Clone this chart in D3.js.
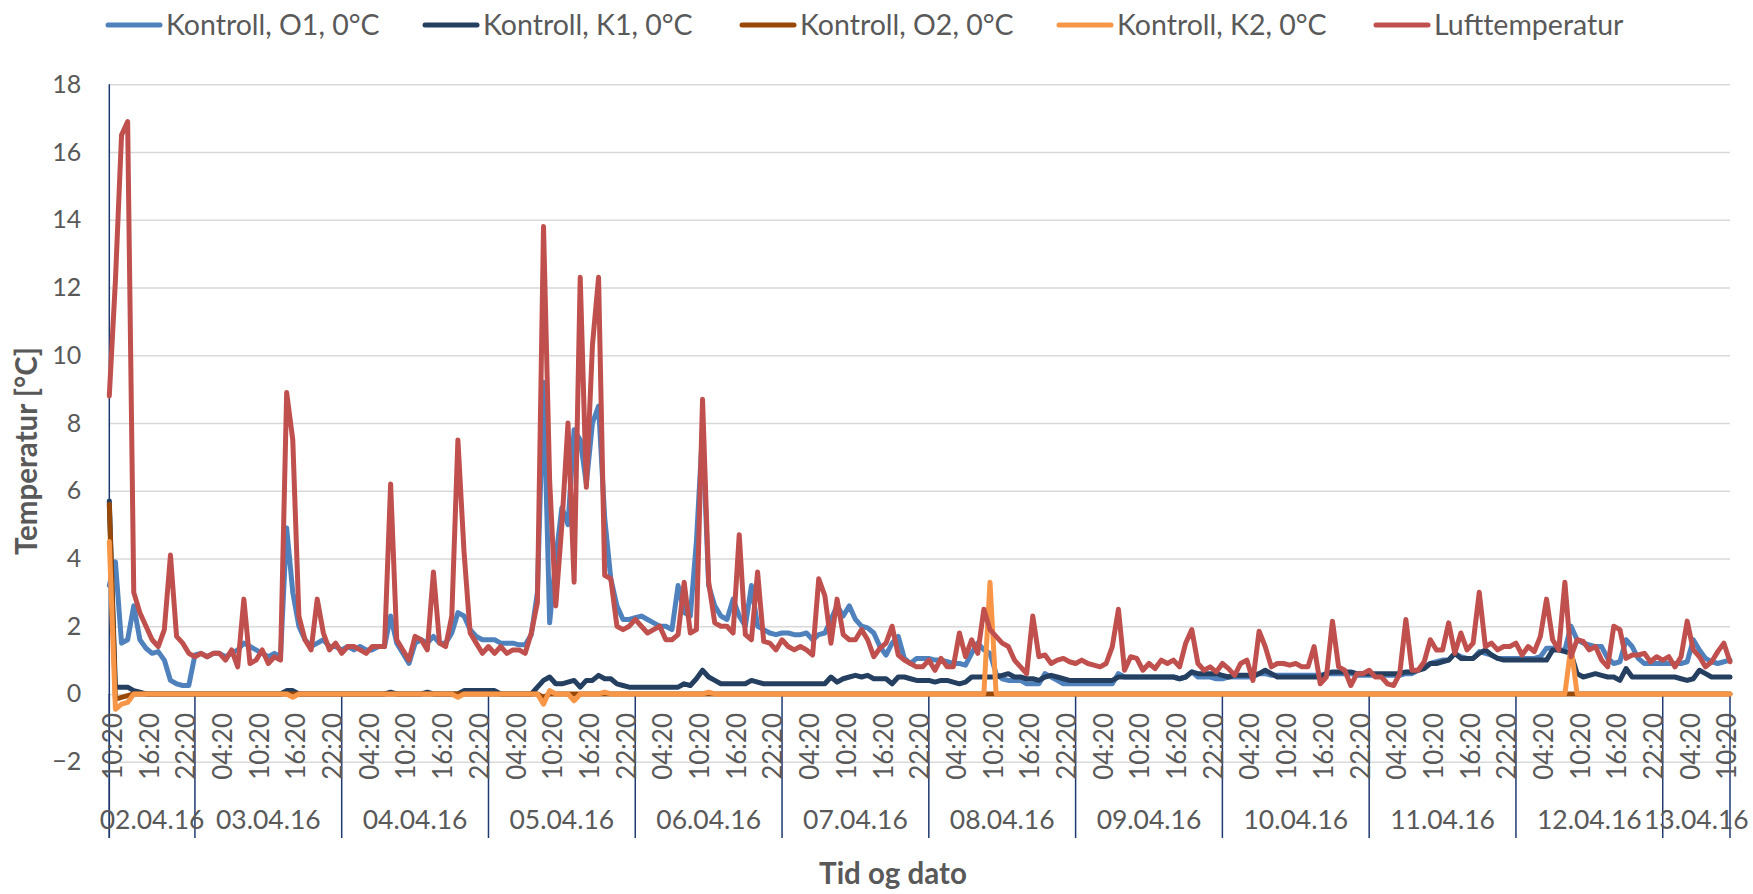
<!DOCTYPE html>
<html lang="no">
<head>
<meta charset="utf-8">
<title>Kontroll 0°C - temperatur</title>
<script src="https://d3js.org/d3.v7.min.js"></script>
<style>
  body { margin: 0; background: #fff; }
  svg text { font-family: Lato, "Open Sans", sans-serif; fill: #595959; }
</style>
</head>
<body>
<div id="chart"></div>
<script>
// first reading, then one reading per hour
var startTime = "2016-04-02 10:20";

var seriesNames = ["Kontroll, O1, 0°C", "Kontroll, K1, 0°C", "Kontroll, O2, 0°C", "Kontroll, K2, 0°C", "Lufttemperatur"];
var seriesColors = ["#4F81BD", "#243F60", "#984807", "#F79646", "#C0504D"];
var dayLabels = ["02.04.16", "03.04.16", "04.04.16", "05.04.16", "06.04.16", "07.04.16",
                 "08.04.16", "09.04.16", "10.04.16", "11.04.16", "12.04.16", "13.04.16"];
var yTicks = [-2, 0, 2, 4, 6, 8, 10, 12, 14, 16, 18];

var o1 = [
  3.2,3.9,1.5,1.6,2.6,1.6,1.35,1.2,1.25,1.0,
  0.4,0.3,0.25,0.25,1.15,1.2,1.1,1.2,1.2,1.1,
  1.2,1.3,1.5,1.4,1.3,1.2,1.1,1.2,1.1,4.9,
  3.0,2.0,1.6,1.4,1.5,1.6,1.4,1.4,1.3,1.4,
  1.3,1.4,1.3,1.3,1.4,1.4,2.3,1.5,1.2,0.9,
  1.5,1.6,1.5,1.7,1.5,1.5,1.8,2.4,2.3,1.9,
  1.7,1.6,1.6,1.6,1.5,1.5,1.5,1.45,1.45,1.75,
  3.0,9.2,2.1,4.0,5.5,5.0,7.8,7.5,6.2,8.0,
  8.5,5.2,3.4,2.6,2.2,2.2,2.25,2.3,2.2,2.1,
  2.0,2.0,1.9,3.2,2.4,2.3,4.5,7.8,3.2,2.6,
  2.3,2.2,2.8,2.3,2.0,3.2,2.0,1.9,1.8,1.75,
  1.8,1.8,1.75,1.75,1.8,1.6,1.75,1.8,2.2,2.6,
  2.3,2.6,2.2,2.0,1.95,1.8,1.4,1.15,1.5,1.7,
  1.05,0.9,1.05,1.05,1.05,1.0,1.0,0.95,0.9,0.9,
  0.85,1.2,1.5,1.3,1.2,0.6,0.45,0.4,0.4,0.4,
  0.3,0.3,0.3,0.6,0.5,0.4,0.3,0.3,0.3,0.3,
  0.3,0.3,0.3,0.3,0.3,0.6,0.5,0.5,0.5,0.5,
  0.5,0.5,0.5,0.5,0.5,0.45,0.5,0.65,0.5,0.5,
  0.5,0.45,0.45,0.5,0.5,0.5,0.5,0.5,0.6,0.6,
  0.55,0.55,0.55,0.55,0.55,0.55,0.55,0.55,0.55,0.6,
  0.6,0.6,0.6,0.6,0.55,0.55,0.55,0.55,0.55,0.55,
  0.55,0.55,0.6,0.6,0.7,0.8,0.9,0.95,1.0,1.0,
  1.2,1.1,1.05,1.05,1.25,1.2,1.15,1.05,1.05,1.05,
  1.05,1.05,1.05,1.05,1.1,1.35,1.35,1.3,1.3,2.0,
  1.6,1.5,1.45,1.4,1.4,1.05,0.9,0.95,1.6,1.4,
  1.05,0.9,0.9,0.9,0.9,0.9,0.9,0.9,0.95,1.6,
  1.3,1.05,0.95,0.9,0.95,1.0
];

var k1 = [
  5.7,0.2,0.2,0.2,0.1,0.05,0,0,0,0,
  0,0,0,0,0,0,0,0,0,0,
  0,0,0,0,0,0,0,0,0,0.1,
  0.1,0,0,0,0,0,0,0,0,0,
  0,0,0,0,0,0,0.05,0,0,0,
  0,0,0.05,0,0,0,0,0,0.1,0.1,
  0.1,0.1,0.1,0.1,0,0,0,0,0,0,
  0.2,0.4,0.5,0.3,0.3,0.35,0.4,0.2,0.4,0.4,
  0.55,0.45,0.45,0.3,0.25,0.2,0.2,0.2,0.2,0.2,
  0.2,0.2,0.2,0.2,0.3,0.25,0.45,0.7,0.5,0.4,
  0.3,0.3,0.3,0.3,0.3,0.4,0.35,0.3,0.3,0.3,
  0.3,0.3,0.3,0.3,0.3,0.3,0.3,0.3,0.5,0.35,
  0.45,0.5,0.55,0.5,0.55,0.45,0.45,0.45,0.3,0.5,
  0.5,0.45,0.4,0.4,0.4,0.35,0.4,0.4,0.35,0.3,
  0.35,0.5,0.5,0.5,0.5,0.5,0.55,0.6,0.5,0.5,
  0.45,0.45,0.4,0.5,0.55,0.5,0.45,0.4,0.4,0.4,
  0.4,0.4,0.4,0.4,0.4,0.5,0.5,0.5,0.5,0.5,
  0.5,0.5,0.5,0.5,0.5,0.45,0.5,0.65,0.6,0.6,
  0.6,0.6,0.55,0.5,0.55,0.55,0.55,0.55,0.6,0.7,
  0.6,0.5,0.5,0.5,0.5,0.5,0.5,0.5,0.5,0.6,
  0.65,0.65,0.65,0.65,0.6,0.6,0.6,0.6,0.6,0.6,
  0.6,0.6,0.65,0.65,0.7,0.75,0.9,0.9,0.95,1.0,
  1.2,1.05,1.05,1.05,1.2,1.3,1.15,1.05,1.0,1.0,
  1.0,1.0,1.0,1.0,1.0,1.0,1.3,1.3,1.25,1.2,
  0.6,0.5,0.55,0.6,0.55,0.5,0.5,0.4,0.75,0.5,
  0.5,0.5,0.5,0.5,0.5,0.5,0.5,0.45,0.4,0.45,
  0.7,0.6,0.5,0.5,0.5,0.5
];

var o2 = [
  5.6,-0.15,-0.1,-0.05,0,0,0,0,0,0,
  0,0,0,0,0,0,0,0,0,0,
  0,0,0,0,0,0,0,0,0,0,
  0,0,0,0,0,0,0,0,0,0,
  0,0,0,0,0,0,0,0,0,0,
  0,0,0,0,0,0,0,0,0,0,
  0,0,0,0,0,0,0,0,0,0,
  0,-0.1,0,0,0,0,0,0,0,0,
  0,0,0,0,0,0,0,0,0,0,
  0,0,0,0,0,0,0,0,0,0,
  0,0,0,0,0,0,0,0,0,0,
  0,0,0,0,0,0,0,0,0,0,
  0,0,0,0,0,0,0,0,0,0,
  0,0,0,0,0,0,0,0,0,0,
  0,0,0,0,0,0,0,0,0,0,
  0,0,0,0,0,0,0,0,0,0,
  0,0,0,0,0,0,0,0,0,0,
  0,0,0,0,0,0,0,0,0,0,
  0,0,0,0,0,0,0,0,0,0,
  0,0,0,0,0,0,0,0,0,0,
  0,0,0,0,0,0,0,0,0,0,
  0,0,0,0,0,0,0,0,0,0,
  0,0,0,0,0,0,0,0,0,0,
  0,0,0,0,0,0,0,0,0,0,
  0,0,0,0,0,0,0,0,0,0,
  0,0,0,0,0,0,0,0,0,0,
  0,0,0,0,0,0
];

var k2 = [
  4.5,-0.45,-0.3,-0.25,0,0,0,0,0,0,
  0,0,0,0,0,0,0,0,0,0,
  0,0,0,0,0,0,0,0,0,0,
  -0.1,0,0,0,0,0,0,0,0,0,
  0,0,0,0,0,0,0,0,0,0,
  0,0,0,0,0,0,0,-0.1,0,0,
  0,0,0,0,0,0,0,0,0,0,
  0,-0.3,0.1,0,0,0,-0.2,0,0,0,
  0,0.05,0,0,0,0,0,0,0,0,
  0,0,0,0,0,0,0,0,0.05,0,
  0,0,0,0,0,0,0,0,0,0,
  0,0,0,0,0,0,0,0,0,0,
  0,0,0,0,0,0,0,0,0,0,
  0,0,0,0,0,0,0,0,0,0,
  0,0,0,0,3.3,0,0,0,0,0,
  0,0,0,0,0,0,0,0,0,0,
  0,0,0,0,0,0,0,0,0,0,
  0,0,0,0,0,0,0,0,0,0,
  0,0,0,0,0,0,0,0,0,0,
  0,0,0,0,0,0,0,0,0,0,
  0,0,0,0,0,0,0,0,0,0,
  0,0,0,0,0,0,0,0,0,0,
  0,0,0,0,0,0,0,0,0,0,
  0,0,0,0,0,0,0,0,0,1.4,
  0,0,0,0,0,0,0,0,0,0,
  0,0,0,0,0,0,0,0,0,0,
  0,0,0,0,0,0
];

var luft = [
  8.8,12.2,16.5,16.9,3.0,2.4,2.0,1.6,1.4,1.9,
  4.1,1.7,1.5,1.2,1.1,1.2,1.1,1.2,1.2,1.0,
  1.3,0.8,2.8,0.9,1.0,1.3,0.9,1.1,1.0,8.9,
  7.5,2.3,1.6,1.3,2.8,1.8,1.3,1.5,1.2,1.4,
  1.4,1.3,1.2,1.4,1.4,1.4,6.2,1.6,1.3,1.0,
  1.7,1.6,1.3,3.6,1.5,1.4,2.3,7.5,4.2,1.8,
  1.5,1.2,1.4,1.2,1.4,1.2,1.3,1.3,1.2,1.8,
  2.7,13.8,6.3,2.6,5.0,8.0,3.3,12.3,6.1,10.3,
  12.3,3.5,3.4,2.0,1.9,2.0,2.2,2.0,1.8,1.9,
  2.0,1.6,1.6,1.75,3.3,1.8,1.9,8.7,3.3,2.1,
  2.0,2.0,1.8,4.7,1.75,1.6,3.6,1.55,1.5,1.3,
  1.6,1.4,1.3,1.4,1.3,1.15,3.4,2.9,1.5,2.8,
  1.75,1.6,1.6,1.9,1.6,1.1,1.35,1.5,2.0,1.15,
  1.0,0.9,0.8,0.8,1.0,0.7,1.05,0.8,0.8,1.8,
  1.1,1.6,1.2,2.5,1.9,1.7,1.5,1.4,1.0,0.8,
  0.6,2.3,1.1,1.15,0.9,1.0,1.05,0.95,0.9,1.0,
  0.9,0.85,0.8,0.9,1.4,2.5,0.7,1.1,1.05,0.7,
  0.9,0.75,1.0,0.9,1.0,0.8,1.5,1.9,0.9,0.7,
  0.8,0.65,0.9,0.75,0.55,0.9,1.0,0.4,1.85,1.4,
  0.8,0.9,0.9,0.85,0.9,0.8,0.8,1.4,0.3,0.5,
  2.15,0.8,0.7,0.25,0.6,0.6,0.7,0.5,0.5,0.3,
  0.25,0.6,2.2,0.7,0.7,0.95,1.6,1.3,1.3,2.1,
  1.2,1.8,1.3,1.5,3.0,1.4,1.5,1.3,1.4,1.4,
  1.5,1.15,1.4,1.25,1.7,2.8,1.6,1.3,3.3,1.1,
  1.6,1.55,1.3,1.4,1.0,0.8,2.0,1.9,1.05,1.15,
  1.15,1.2,0.95,1.1,1.0,1.1,0.8,1.1,2.15,1.3,
  1.1,0.8,0.95,1.25,1.5,0.95
];

var allSeries = [o1, k1, o2, k2, luft];

// ---- size and scales
var w = 1753, h = 894;
var plotLeft = 109.3, plotRight = 1730, plotTop = 84.3, plotBottom = 761.7;
var groupBottom = 838;   // where the day separators end

var parseTime = d3.timeParse("%Y-%m-%d %H:%M");
var t0 = parseTime(startTime);
var times = luft.map(function (d, i) { return d3.timeHour.offset(t0, i); });
var tEnd = times[times.length - 1];

var x = d3.scaleTime().domain([t0, tEnd]).range([plotLeft, plotRight]);
var y = d3.scaleLinear().domain([-2, 18]).range([plotBottom, plotTop]);

var svg = d3.select("#chart").append("svg")
    .attr("width", w)
    .attr("height", h);

// horizontal gridlines
svg.append("g")
    .attr("transform", "translate(" + plotLeft + ",0)")
    .call(d3.axisLeft(y).tickValues(yTicks).tickSize(-(plotRight - plotLeft)).tickFormat(""))
    .call(function (g) { g.select(".domain").remove(); })
    .selectAll("line")
    .attr("stroke", "#D9D9D9")
    .attr("stroke-width", 1.5);

// y tick labels
svg.append("g")
    .attr("transform", "translate(" + plotLeft + ",0)")
    .call(d3.axisLeft(y).tickValues(yTicks).tickSize(0).tickPadding(28))
    .call(function (g) { g.select(".domain").remove(); })
    .selectAll("text")
    .style("font-size", "25px")
    .style("font-family", "Lato")
    .attr("fill", "#595959");

// day separators below the zero line
var bounds = [t0]
    .concat(d3.timeDay.range(d3.timeDay.ceil(t0), tEnd).map(function (d) { return d3.timeMinute.offset(d, 20); }))
    .concat([tEnd]);

svg.append("g").selectAll("line")
    .data(bounds)
    .enter()
    .append("line")
    .attr("x1", function (d) { return x(d); })
    .attr("x2", function (d) { return x(d); })
    .attr("y1", y(0))
    .attr("y2", groupBottom)
    .attr("stroke", "#1F3A70")
    .attr("stroke-width", 1.5);

// value axis line
svg.append("line")
    .attr("x1", plotLeft).attr("x2", plotLeft)
    .attr("y1", plotTop).attr("y2", groupBottom)
    .attr("stroke", "#1F3A70")
    .attr("stroke-width", 1.5);

// time labels every 6 hours, rotated
var tickTimes = d3.range(0, times.length, 6).map(function (i) { return times[i]; });
var xAxis = svg.append("g")
    .attr("transform", "translate(0," + y(0) + ")")
    .call(d3.axisBottom(x).tickValues(tickTimes).tickFormat(d3.timeFormat("%H:%M")).tickSize(0));
xAxis.select(".domain").remove();
xAxis.selectAll("text")
    .attr("transform", "rotate(-90)")
    .attr("text-anchor", "end")
    .attr("x", -19)
    .attr("y", 3)
    .attr("dy", "0.35em")
    .style("font-size", "26px")
    .style("font-family", "Lato")
    .attr("fill", "#595959");

// date labels centred in each day group
svg.append("g").selectAll("text")
    .data(dayLabels)
    .enter()
    .append("text")
    .attr("x", function (d, i) { return (x(bounds[i]) + x(bounds[i + 1])) / 2; })
    .attr("y", 829)
    .attr("text-anchor", "middle")
    .style("font-size", "26.5px")
    .text(function (d) { return d; });

// series lines
var line = d3.line()
    .x(function (d, i) { return x(times[i]); })
    .y(function (d) { return y(d); });

svg.append("g").selectAll("path")
    .data(allSeries)
    .enter()
    .append("path")
    .attr("d", line)
    .attr("fill", "none")
    .attr("stroke", function (d, i) { return seriesColors[i]; })
    .attr("stroke-width", 5)
    .attr("stroke-linejoin", "round")
    .attr("stroke-linecap", "round");

// axis titles
svg.append("text")
    .attr("transform", "translate(37,451) rotate(-90)")
    .attr("text-anchor", "middle")
    .style("font-size", "29.5px")
    .style("font-weight", "bold")
    .text("Temperatur [°C]");

svg.append("text")
    .attr("x", 893)
    .attr("y", 884)
    .attr("text-anchor", "middle")
    .style("font-size", "29.5px")
    .style("font-weight", "bold")
    .text("Tid og dato");

// legend, items on a fixed step like the original
var legendStep = 317;
var legend = svg.append("g").attr("transform", "translate(106,25)");
var items = legend.selectAll("g")
    .data(seriesNames)
    .enter()
    .append("g")
    .attr("transform", function (d, i) { return "translate(" + (i * legendStep) + ",0)"; });
items.append("line")
    .attr("x1", 2).attr("x2", 54)
    .attr("y1", 0).attr("y2", 0)
    .attr("stroke", function (d, i) { return seriesColors[i]; })
    .attr("stroke-width", 5)
    .attr("stroke-linecap", "round");
items.append("text")
    .attr("x", 60)
    .attr("dy", "0.35em")
    .style("font-size", "28.5px")
    .text(function (d) { return d; });
</script>
</body>
</html>
